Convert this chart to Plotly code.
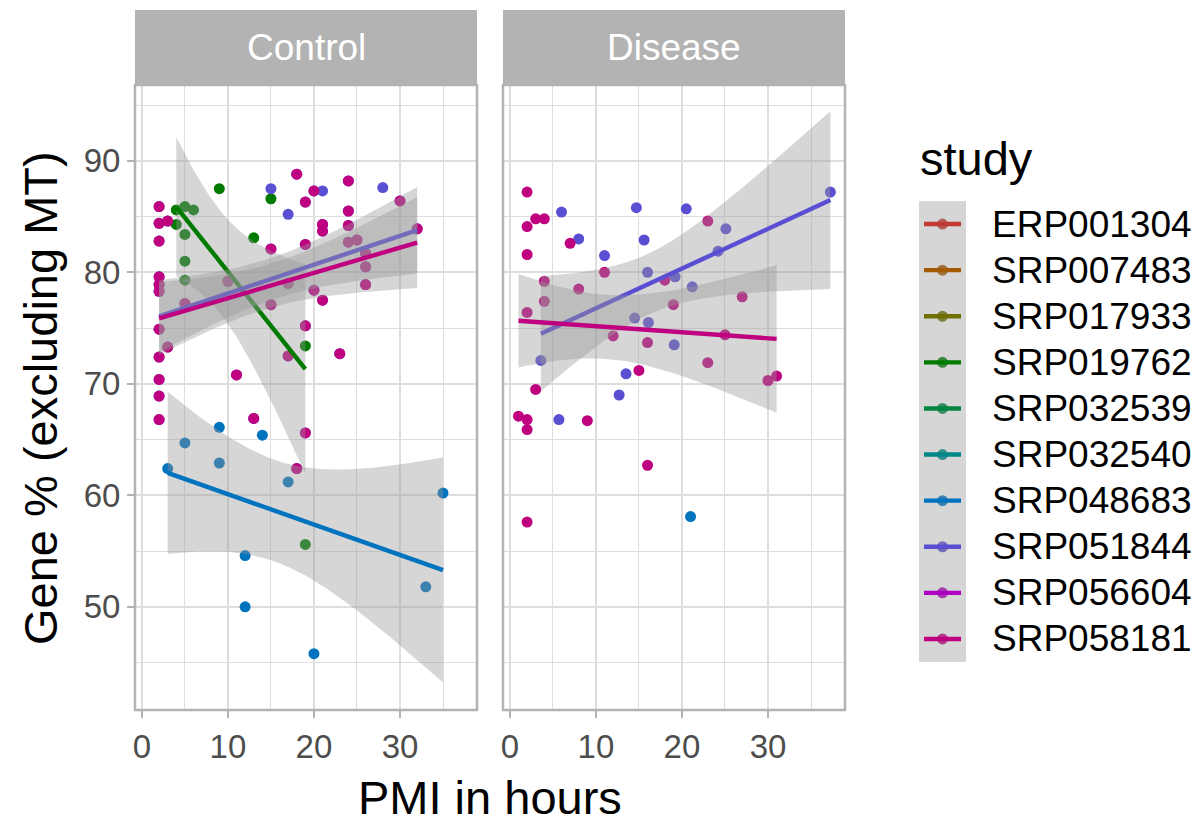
import math
import numpy as np
import plotly.graph_objects as go

# ---------------------------------------------------------------- studies
STUDIES = ["ERP001304", "SRP007483", "SRP017933", "SRP019762", "SRP032539",
           "SRP032540", "SRP048683", "SRP051844", "SRP056604", "SRP058181"]
STUDY_COLOURS = ["#C13A31", "#A35A00", "#6F6E00", "#007B00", "#00843F",
                 "#008888", "#0073BE", "#5A4FD3", "#AE00C1", "#BF007F"]

# ---------------------------------------------------------------- Control samples
ctrl_SRP019762_pmi = [4, 5, 6, 4, 5, 5, 5, 9, 13, 15, 19, 19]
ctrl_SRP019762_gene = [85.6, 85.9, 85.6, 84.3, 83.4, 81.0, 79.3, 87.5, 83.1, 86.6, 73.4, 55.6]

ctrl_SRP048683_pmi = [3, 5, 9, 9, 12, 12, 14, 17, 20, 33, 35]
ctrl_SRP048683_gene = [62.4, 64.7, 66.1, 62.9, 54.6, 50.0, 65.4, 61.2, 45.8, 51.8, 60.2]

# SRP051844 and SRP058181 share most of their control brains
ctrl_SRP051844_pmi = [2, 2, 3, 2, 2, 2, 2, 2, 3, 2, 2, 2, 2, 11, 13, 18, 24, 20, 19, 24,
                      21, 21, 24, 15, 19, 30, 32, 24, 25, 26, 26, 26, 17, 20, 21, 19, 23,
                      19, 18, 17, 15, 5, 10, 15, 17, 21, 28]
ctrl_SRP051844_gene = [85.9, 84.4, 84.6, 82.8, 79.6, 78.9, 78.3, 74.9, 73.3, 72.4, 70.4,
                       68.9, 66.8, 70.8, 66.9, 88.8, 88.2, 87.3, 86.3, 85.5, 84.3, 83.7,
                       84.2, 82.1, 82.5, 86.4, 83.9, 82.7, 82.9, 81.7, 80.5, 78.9, 79.0,
                       78.4, 77.5, 75.2, 72.7, 65.6, 62.4, 72.5, 77.1, 77.2, 79.2,
                       87.5, 85.2, 87.3, 87.6]

ctrl_SRP058181_pmi = [2, 2, 3, 2, 2, 2, 2, 2, 3, 2, 2, 2, 2, 11, 13, 18, 24, 20, 19, 24,
                      21, 21, 24, 15, 19, 30, 32, 24, 25, 26, 26, 26, 17, 20, 21, 19, 23,
                      19, 18, 17, 15, 5, 10]
ctrl_SRP058181_gene = [85.9, 84.4, 84.6, 82.8, 79.6, 78.9, 78.3, 74.9, 73.3, 72.4, 70.4,
                       68.9, 66.8, 70.8, 66.9, 88.8, 88.2, 87.3, 86.3, 85.5, 84.3, 83.7,
                       84.2, 82.1, 82.5, 86.4, 83.9, 82.7, 82.9, 81.7, 80.5, 78.9, 79.0,
                       78.4, 77.5, 75.2, 72.7, 65.6, 62.4, 72.5, 77.1, 77.2, 79.2]

# ---------------------------------------------------------------- Disease samples
dis_SRP048683_pmi = [21]
dis_SRP048683_gene = [58.1]

dis_SRP051844_pmi = [6, 14.7, 8, 15.6, 11, 16, 14.5, 16.1, 3.6, 13.5, 12.7, 5.7, 19.1,
                     19.2, 20.5, 25.1, 24.2, 21.2, 37.25]
dis_SRP051844_gene = [85.4, 85.8, 83.0, 82.9, 81.5, 80.0, 75.9, 75.5, 72.1, 70.9, 69.0,
                      66.8, 73.5, 79.6, 85.7, 83.9, 81.9, 78.7, 87.2]

dis_SRP058181_pmi = [2, 3, 4, 2, 2, 7, 4, 4, 2, 8, 11, 12, 16, 15, 3, 1, 2, 2, 9, 18, 19,
                     23, 27, 25, 23, 30, 31, 16, 2]
dis_SRP058181_gene = [87.2, 84.8, 84.8, 84.1, 81.6, 82.6, 79.2, 77.4, 76.4, 78.5, 80.0,
                      74.3, 73.7, 71.2, 69.5, 67.1, 66.8, 65.9, 66.7, 79.3, 77.1, 84.6,
                      77.8, 74.4, 71.9, 70.3, 70.7, 62.7, 57.6]

PANEL_DATA = {
    "Control": {
        "SRP019762": (ctrl_SRP019762_pmi, ctrl_SRP019762_gene),
        "SRP048683": (ctrl_SRP048683_pmi, ctrl_SRP048683_gene),
        "SRP051844": (ctrl_SRP051844_pmi, ctrl_SRP051844_gene),
        "SRP058181": (ctrl_SRP058181_pmi, ctrl_SRP058181_gene),
    },
    "Disease": {
        "SRP048683": (dis_SRP048683_pmi, dis_SRP048683_gene),
        "SRP051844": (dis_SRP051844_pmi, dis_SRP051844_gene),
        "SRP058181": (dis_SRP058181_pmi, dis_SRP058181_gene),
    },
}
PANEL_AXES = {"Control": ("x", "y"), "Disease": ("x2", "y2")}

FONT = "Liberation Sans, Arial, Helvetica, sans-serif"
W, H = 1200, 823


def t_quantile(p, df):
    """Student-t quantile by bisection on a numerically integrated CDF."""
    c = math.exp(math.lgamma((df + 1) / 2) - math.lgamma(df / 2)) / math.sqrt(df * math.pi)

    def cdf(t):
        g = np.linspace(0.0, t, 4001)
        return 0.5 + np.trapezoid(c * (1 + g ** 2 / df) ** (-(df + 1) / 2), g)

    lo, hi = 0.0, 60.0
    for _ in range(80):
        mid = 0.5 * (lo + hi)
        if cdf(mid) < p:
            lo = mid
        else:
            hi = mid
    return 0.5 * (lo + hi)


def lm_band(x, y, level=0.95, n_grid=80):
    """Least-squares line with a confidence band for the mean (like geom_smooth(method='lm'))."""
    x = np.asarray(x, float)
    y = np.asarray(y, float)
    n = len(x)
    xm, ym = x.mean(), y.mean()
    sxx = ((x - xm) ** 2).sum()
    b = ((x - xm) * (y - ym)).sum() / sxx
    a = ym - b * xm
    s = math.sqrt(((y - (a + b * x)) ** 2).sum() / (n - 2))
    xs = np.linspace(x.min(), x.max(), n_grid)
    fit = a + b * xs
    se = s * np.sqrt(1 / n + (xs - xm) ** 2 / sxx)
    t = t_quantile(0.5 + level / 2, n - 2)
    return xs, fit, fit - t * se, fit + t * se


fig = go.Figure()

# points
for panel, groups in PANEL_DATA.items():
    xa, ya = PANEL_AXES[panel]
    for study in STUDIES:
        if study not in groups:
            continue
        px_, gy = groups[study]
        fig.add_trace(go.Scatter(
            x=px_, y=gy, mode="markers", xaxis=xa, yaxis=ya,
            marker=dict(size=11, color=STUDY_COLOURS[STUDIES.index(study)], line=dict(width=0)),
            name=study, showlegend=False, hoverinfo="x+y+name"))

# linear fits with 95% confidence ribbons
for panel, groups in PANEL_DATA.items():
    xa, ya = PANEL_AXES[panel]
    for study in STUDIES:
        if study not in groups or len(groups[study][0]) < 3:
            continue
        xs, fit, lo, hi = lm_band(*groups[study])
        fig.add_trace(go.Scatter(
            x=np.concatenate([xs, xs[::-1]]), y=np.concatenate([hi, lo[::-1]]),
            mode="lines", fill="toself", fillcolor="rgba(153,153,153,0.4)",
            line=dict(width=0), xaxis=xa, yaxis=ya, showlegend=False, hoverinfo="skip"))
        fig.add_trace(go.Scatter(
            x=xs, y=fit, mode="lines", xaxis=xa, yaxis=ya,
            line=dict(color=STUDY_COLOURS[STUDIES.index(study)], width=4.4),
            showlegend=False, hoverinfo="skip"))

# ---------------------------------------------------------------- axes
grid = "#DEDEDE"
frame = "#B3B3B3"
tick_font = dict(family=FONT, size=33, color="#4D4D4D")
x_common = dict(range=[-0.8, 38.95], tickvals=[0, 10, 20, 30], ticks="outside", ticklen=7,
                tickwidth=2, tickcolor=frame, showgrid=True, gridcolor=grid, gridwidth=2,
                zeroline=False, showline=False, automargin=False,
                minor=dict(dtick=5, tick0=0, showgrid=True, gridcolor=grid, gridwidth=1.1),
                tickfont=tick_font)
y_common = dict(range=[40.75, 96.8], tickvals=[50, 60, 70, 80, 90], ticklen=7,
                tickwidth=2, tickcolor=frame, showgrid=True, gridcolor=grid, gridwidth=2,
                zeroline=False, showline=False, automargin=False,
                minor=dict(dtick=5, tick0=0, showgrid=True, gridcolor=grid, gridwidth=1.1),
                tickfont=tick_font)

y_dom = [1 - 710 / H, 1 - 85 / H]
fig.update_layout(
    xaxis=dict(domain=[135 / W, 477 / W], anchor="y", **x_common),
    xaxis2=dict(domain=[503 / W, 845 / W], anchor="y2", **x_common),
    yaxis=dict(domain=y_dom, anchor="x", ticks="outside", **y_common),
    yaxis2=dict(domain=y_dom, anchor="x2", matches="y", showticklabels=False, ticks="",
                **y_common),
)

shapes = []
annotations = []
strip_h = 75 / (710 - 85)
for panel, (xa, ya) in PANEL_AXES.items():
    shapes.append(dict(type="rect", xref=f"{xa} domain", yref=f"{ya} domain",
                       x0=0, x1=1, y0=1, y1=1 + strip_h, fillcolor=frame,
                       line=dict(width=0), layer="above"))
    shapes.append(dict(type="rect", xref=f"{xa} domain", yref=f"{ya} domain",
                       x0=0, x1=1, y0=0, y1=1, line=dict(color=frame, width=2.5),
                       fillcolor="rgba(0,0,0,0)", layer="above"))
    annotations.append(dict(text=panel, xref=f"{xa} domain", yref=f"{ya} domain",
                            x=0.5, y=1 + strip_h / 2, showarrow=False,
                            xanchor="center", yanchor="middle",
                            font=dict(family=FONT, size=37, color="white")))

# axis titles
annotations.append(dict(text="PMI in hours", xref="paper", yref="paper",
                        x=490 / W, y=1 - 797 / H, showarrow=False,
                        xanchor="center", yanchor="middle",
                        font=dict(family=FONT, size=47, color="black")))
annotations.append(dict(text="Gene % (excluding MT)", xref="paper", yref="paper",
                        x=40 / W, y=1 - 398 / H, showarrow=False, textangle=-90,
                        xanchor="center", yanchor="middle",
                        font=dict(family=FONT, size=47, color="black")))

# ---------------------------------------------------------------- legend
key_x0, key_x1 = 919, 966
key_top, key_h = 201, 46.1
annotations.append(dict(text="study", xref="paper", yref="paper",
                        x=918 / W, y=1 - 158 / H, showarrow=False,
                        xanchor="left", yanchor="middle",
                        font=dict(family=FONT, size=47, color="black")))
centres = [key_top + key_h * (i + 0.5) for i in range(len(STUDIES))]
cx = (key_x0 + key_x1) / 2
for study, colour, cy in zip(STUDIES, STUDY_COLOURS, centres):
    shapes.append(dict(type="circle", xref="paper", yref="paper",
                       x0=(cx - 5.5) / W, x1=(cx + 5.5) / W,
                       y0=1 - (cy + 5.5) / H, y1=1 - (cy - 5.5) / H,
                       fillcolor=colour, line=dict(width=0), layer="above"))
shapes.append(dict(type="rect", xref="paper", yref="paper",
                   x0=key_x0 / W, x1=key_x1 / W,
                   y0=1 - (key_top + key_h * len(STUDIES)) / H, y1=1 - key_top / H,
                   fillcolor="rgba(153,153,153,0.4)", line=dict(width=0), layer="above"))
for study, colour, cy in zip(STUDIES, STUDY_COLOURS, centres):
    shapes.append(dict(type="line", xref="paper", yref="paper",
                       x0=924 / W, x1=961 / W, y0=1 - cy / H, y1=1 - cy / H,
                       line=dict(color=colour, width=4.4), layer="above"))
    annotations.append(dict(text=study, xref="paper", yref="paper",
                            x=990 / W, y=1 - cy / H, showarrow=False,
                            xanchor="left", yanchor="middle",
                            font=dict(family=FONT, size=37, color="black")))

fig.update_layout(
    width=W, height=H, margin=dict(l=0, r=0, t=0, b=0),
    paper_bgcolor="white", plot_bgcolor="white", showlegend=False,
    shapes=shapes, annotations=annotations,
    font=dict(family=FONT),
)

fig.write_html("out.html")
